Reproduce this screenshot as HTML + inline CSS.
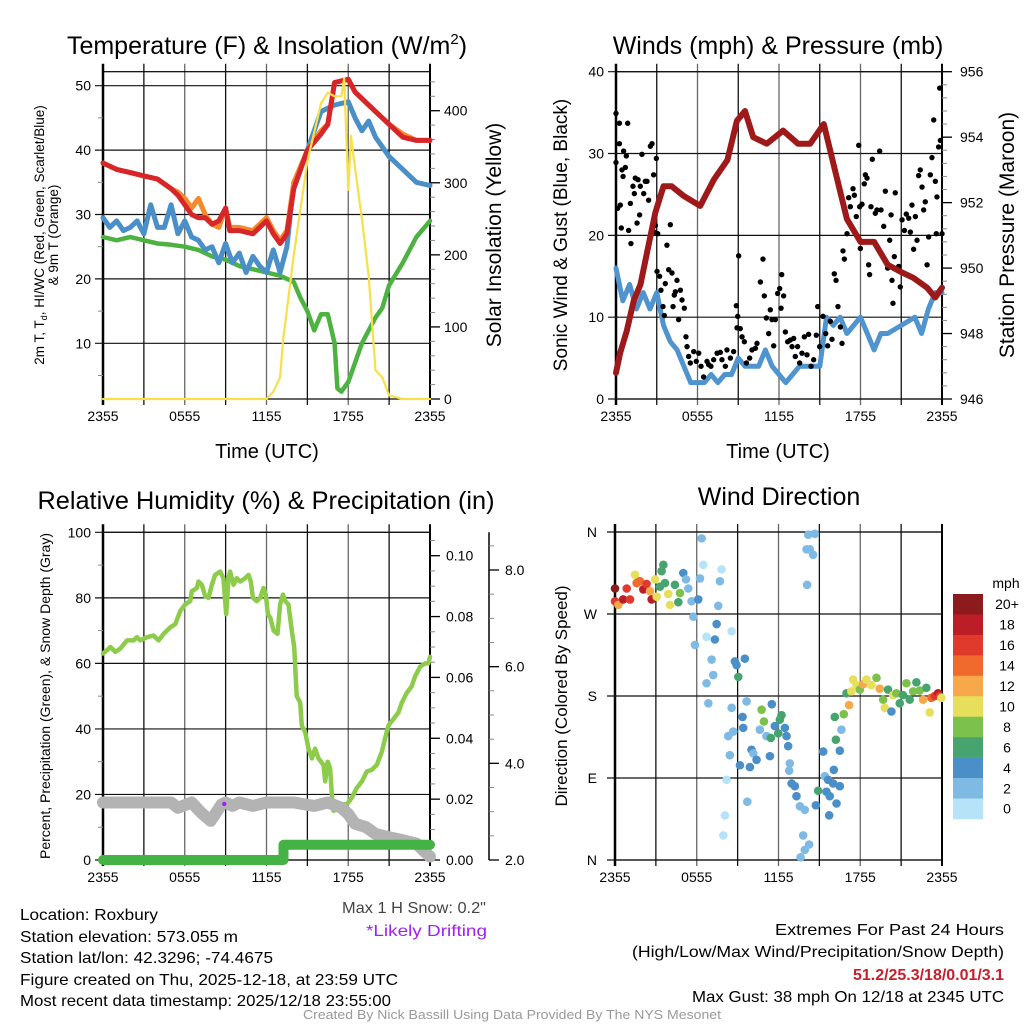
<!DOCTYPE html>
<html><head><meta charset="utf-8"><style>
html,body{margin:0;padding:0;background:#fff;}
svg{display:block;font-family:"Liberation Sans",Arial,sans-serif;}
</style></head><body>
<svg id="fig" width="1024" height="1024" viewBox="0 0 1024 1024" xmlns="http://www.w3.org/2000/svg">
<rect width="1024" height="1024" fill="#fff"/>
<g id="p1"></g>
<g id="p2"></g>
<g id="p3"></g>
<g id="p4"></g>
<text x="267" y="54" font-size="25" text-anchor="middle">Temperature (F) &amp; Insolation (W/m<tspan font-size="15" dy="-10">2</tspan><tspan dy="10">)</tspan></text>
<text x="778" y="54" font-size="25" text-anchor="middle">Winds (mph) &amp; Pressure (mb)</text>
<text x="266" y="509" font-size="25" text-anchor="middle" textLength="457" lengthAdjust="spacingAndGlyphs">Relative Humidity (%) &amp; Precipitation (in)</text>
<text x="779" y="505" font-size="25" text-anchor="middle">Wind Direction</text>
<text x="267" y="458" font-size="20" text-anchor="middle">Time (UTC)</text>
<text x="778" y="458" font-size="20" text-anchor="middle">Time (UTC)</text>
<text font-size="13.5" text-anchor="middle" transform="translate(44,235) rotate(-90)">2m T, T<tspan font-size="9" dy="3">d</tspan><tspan dy="-3">, HI/WC (Red, Green, Scarlet/Blue)</tspan></text>
<text font-size="13.5" text-anchor="middle" transform="translate(58,235) rotate(-90)">&amp; 9m T (Orange)</text>
<text font-size="21" text-anchor="middle" transform="translate(501,235) rotate(-90)">Solar Insolation (Yellow)</text>
<text font-size="19" text-anchor="middle" transform="translate(567,235) rotate(-90)">Sonic Wind &amp; Gust (Blue, Black)</text>
<text font-size="21" text-anchor="middle" transform="translate(1014,235) rotate(-90)">Station Pressure (Maroon)</text>
<text font-size="14" text-anchor="middle" transform="translate(50,696) rotate(-90)">Percent, Precipitation (Green), &amp; Snow Depth (Gray)</text>
<text font-size="17" text-anchor="middle" transform="translate(567,696) rotate(-90)">Direction (Colored By Speed)</text>
<g font-size="16">
<text x="20" y="920" textLength="138" lengthAdjust="spacingAndGlyphs">Location: Roxbury</text>
<text x="20" y="942" textLength="218" lengthAdjust="spacingAndGlyphs">Station elevation: 573.055 m</text>
<text x="20" y="963" textLength="253" lengthAdjust="spacingAndGlyphs">Station lat/lon: 42.3296; -74.4675</text>
<text x="20" y="985" textLength="378" lengthAdjust="spacingAndGlyphs">Figure created on Thu, 2025-12-18, at 23:59 UTC</text>
<text x="20" y="1006" textLength="371" lengthAdjust="spacingAndGlyphs">Most recent data timestamp: 2025/12/18 23:55:00</text>
<text x="342" y="913" fill="#444" textLength="144" lengthAdjust="spacingAndGlyphs">Max 1 H Snow: 0.2"</text>
<text x="366" y="936" fill="#a020f0" textLength="121" lengthAdjust="spacingAndGlyphs">*Likely Drifting</text>
<text x="775" y="935" textLength="229" lengthAdjust="spacingAndGlyphs">Extremes For Past 24 Hours</text>
<text x="632" y="957" textLength="372" lengthAdjust="spacingAndGlyphs">(High/Low/Max Wind/Precipitation/Snow Depth)</text>
<text x="853" y="980" fill="#c8202a" font-weight="bold" textLength="151" lengthAdjust="spacingAndGlyphs">51.2/25.3/18/0.01/3.1</text>
<text x="692" y="1002" textLength="312" lengthAdjust="spacingAndGlyphs">Max Gust: 38 mph On 12/18 at 2345 UTC</text>
</g>
<text x="303" y="1019" font-size="13" fill="#999" textLength="418" lengthAdjust="spacingAndGlyphs">Created By Nick Bassill Using Data Provided By The NYS Mesonet</text>
</svg>
<script>
// ---------- data ----------
const xTickLabels = ["2355","0555","1155","1755","2355"];
const xTickHours = [0,6,12,18,24];
// Panel 1
const tempHours = [0,1,2,3,4,5,5.5,6,6.5,7,7.5,8,8.5,9,9.3,10,11,12,12.5,13,13.5,14,14.5,15,16,16.5,17,18,18.5,19,20,21,22,23,24];
const tempRed =   [38,37,36.5,36,35.5,34,33,31.5,30,29.5,29.5,28.5,29,31,27.5,27.5,27,29,27,25.5,27,34,37,40,42.5,44,50.5,51,49,48,46,44,42,41.5,41.5];
const temp9m =    [38,37,36.5,36,35.5,34,33.5,32.5,31,32.5,30,28.5,28,31,28,28,27.5,29.5,27.5,26,27.5,35,37.5,40,43,44,50.5,51,49,48,46,44,42.5,41.5,41.5];
const chillHours = [0,0.5,1,1.5,2,2.5,3,3.5,4,4.5,5,5.5,6,6.5,7,7.5,8,8.5,9,9.5,10,10.5,11,11.5,12,12.5,13,13.5,14,14.5,15,15.5,16,17,18,18.5,19,19.5,20,21,22,23,24];
const chillBlue = [29.5,28,29,27.5,28,29,27,31.5,28,28,31.5,27,29,26.5,26,24.5,25,22.5,25.5,22.5,24,21,23.5,22,21,24.5,21,25,35,37,40,43,46,47,47.5,45,43,44.5,42,39,37,35,34.5];
const dewHours = [0,1,2,3,4,5,6,7,8,9,10,11,12,13,14,14.5,15,15.5,16,16.5,17,17.2,17.5,18,18.5,19,20,20.5,21,22,23,24];
const dewGreen = [26.5,26,26.5,26,25.5,25.3,25,24.5,23.5,23,22,21.5,21,20.5,19.5,17,15,12,14.5,14.5,10,3,2.5,4,7,10,14,15.5,19,22.5,26.5,29];
const solarHours = [0,12,12.5,13,13.2,14,15,16,16.5,17,17.5,17.7,18,18.2,18.5,19,19.5,20,20.5,21,22,24];
const solarVals =  [0,0,10,30,80,200,330,410,425,420,420,445,290,365,320,250,170,40,30,5,0,0];
// Panel 2
const windHours = [0,0.5,1,1.5,2,2.5,3,3.5,4,4.5,5,5.5,6,6.5,7,7.5,8,8.5,9,9.5,10,10.5,11,11.5,12,12.5,13,13.5,14,14.5,15,15.5,16,16.5,17,17.5,18,18.5,19,19.5,20,21,22,22.5,23,23.5,24];
const windVals =  [16,12,14,11,13,11,13,9,7,6,4,2,2,2,3,2,3,3,5,4,4,4,6,4,3,2,3,4,4,4,4,10,9,10,8,9,10,8,6,8,8,9,10,8,11,13,13];
const presHours = [0,0.3,0.8,1.3,1.8,2.3,2.9,3.5,4.1,5,6.2,7.2,8.2,8.9,9.5,10.1,11.1,12.3,13.4,14.3,15.3,16,17,18,19,20,20.9,21.9,22.9,23.5,24];
const presVals =  [946.8,947.4,948.1,949,949.5,950.5,951.7,952.5,952.5,952.2,951.9,952.7,953.3,954.5,954.8,954,953.8,954.2,953.8,953.8,954.4,953.2,951.5,950.8,950.8,950.1,949.9,949.7,949.4,949.1,949.4];
const gustObs = [[0,34.9],[0,28.9],[0.25,33.7],[0.25,31.2],[0.12,23.3],[0.32,23.7],[0.44,28],[0.52,27.2],[0.56,30.3],[0.69,28.3],[0.86,33.7],[0.76,29.7],[0.39,20.9],[0.93,20.6],[1.06,23.9],[1.1,19],[1.25,26],[1.35,25.1],[1.42,27],[1.55,21.5],[1.62,26.8],[1.79,26],[1.74,22.5],[1.91,29.9],[2.04,25.1],[2.16,26.6],[2.28,26.6],[2.4,24.3],[2.53,30.9],[2.65,31.2],[2.77,27.4],[2.82,20.4],[2.9,21.2],[2.97,29.4],[3.07,20.2],[3.02,15.6],[3.21,15],[3.31,13.3],[3.46,11.3],[3.56,10.2],[3.63,14.1],[3.75,18.8],[3.88,15.8],[4.0,21.3],[4.12,15.4],[4.2,11.3],[4.29,12.7],[4.37,13.1],[4.49,14.5],[4.61,9.7],[4.74,13.3],[4.86,12.1],[5.03,11.1],[5.15,7.6],[5.23,6.4],[5.35,5.2],[5.47,4.4],[5.72,5.8],[5.91,4.6],[6.09,5.6],[6.26,4],[6.45,2.7],[6.7,4.6],[6.82,4.2],[6.99,4],[7.19,4.8],[7.44,5.6],[7.68,5.7],[7.8,4.8],[8.05,4],[8.17,6],[8.42,5],[8.66,5.8],[8.86,11.4],[8.91,8.7],[8.96,10.1],[9.03,17.5],[9.15,8.6],[9.28,7.6],[9.45,7],[9.6,4.4],[9.84,5],[10.01,6],[10.26,6.2],[10.38,6.8],[10.63,14.3],[10.82,17.1],[10.92,12.6],[11.07,9.9],[11.24,8],[11.36,10.9],[11.48,9.7],[11.61,6.5],[11.73,9.7],[11.9,12.9],[12.05,13.5],[12.15,11.1],[12.2,15.2],[12.34,12.6],[12.47,8.2],[12.64,7],[12.83,7.2],[12.96,6.4],[13.08,7.4],[13.2,5.2],[13.37,6.4],[13.52,4.4],[13.69,5.6],[13.87,7.6],[14.06,5.4],[14.18,7.9],[14.36,4],[14.55,4.8],[14.75,7.8],[14.85,11.3],[14.99,6.4],[15.24,10.1],[15.44,8],[15.58,6.5],[15.78,9.5],[15.9,7.3],[16.07,15.3],[16.2,14.5],[16.34,11.3],[16.52,8.8],[16.64,6.8],[16.71,18.1],[16.81,17.1],[17.01,20.2],[17.13,24.6],[17.25,23.5],[17.45,25.7],[17.55,24.9],[17.69,22.3],[17.87,31],[17.94,23.5],[17.99,18.4],[18.11,23.8],[18.28,26.3],[18.36,27.4],[18.48,27],[18.6,16.4],[18.67,15.2],[18.77,23.5],[18.87,29.3],[19.09,22.7],[19.21,23.1],[19.41,30.3],[19.51,23.1],[19.71,21.1],[19.83,25.4],[20.0,16],[20.15,19.4],[20.25,22.5],[20.32,14.5],[20.39,11.7],[20.49,17.4],[20.56,25.2],[20.81,16.2],[20.93,13.7],[21.06,21.9],[21.23,20.6],[21.37,22.6],[21.55,22.1],[21.67,20.4],[21.79,23.7],[21.91,18.3],[22.04,22.3],[22.16,19.4],[22.28,27.3],[22.4,28],[22.53,25.9],[22.65,23.1],[22.77,24.1],[22.9,16.4],[23.02,19.8],[23.14,27.4],[23.26,29.5],[23.39,34.1],[23.51,26.6],[23.58,20.2],[23.63,24.7],[23.75,30.8],[23.83,38],[23.88,31.6],[24,20.2]];
// Panel 3
const rhHours = [0,0.29,0.54,0.9,1.27,1.76,2.25,2.49,2.74,3.23,3.71,4.08,4.45,4.94,5.31,5.67,6.04,6.4,6.52,6.89,7.01,7.25,7.5,7.74,7.99,8.23,8.6,8.84,9.04,9.21,9.33,9.58,9.82,10.07,10.43,10.68,10.85,11.0,11.29,11.54,11.78,11.95,12.1,12.27,12.52,12.81,13.0,13.2,13.37,13.61,13.86,14.03,14.22,14.35,14.47,14.59,14.84,15.08,15.33,15.57,15.82,16.18,16.31,16.49,16.67,16.79,16.92,17.16,17.53,17.9,18.26,18.63,19.0,19.36,19.72,20.09,20.46,20.7,20.95,21.31,21.68,21.93,22.29,22.66,22.9,23.27,23.64,23.88,24];
const rhVals = [63,64,65,63.5,64.5,67,67,68,67,68,68.5,67,69,71,72,76,78,79,82,83,85,84,80.5,80,84,87,88,86,75,86,88,84,86,85,86,87,85,80,79,80,83,81,75,74,70,69,78,81,79,78,70,65,50,49,48,41,39,34,31,34,31,29,24,30,28,20,15,15.5,17,17,19,22,24,27,27.5,29,33,37,41,43,45,48,51,53,56,59,60,60,62];
const snowHours = [0,5,5.5,6.5,7.2,7.9,8.4,8.7,9,9.5,10,11,12,14,15.5,16.5,17.5,18,18.5,19.3,20,21,22,23,23.5,24];
const snowDepth = [3.19,3.19,3.08,3.19,2.98,2.81,3.02,3.15,3.19,3.12,3.19,3.12,3.19,3.19,3.12,3.19,3.08,2.95,2.75,2.68,2.54,2.47,2.41,2.34,2.2,2.07];
const precipHours = [0,13.25,13.25,24];
const precipVals = [0,0,0.005,0.005];
// Panel 4
const windDirObs = [[0.0,298,20],[0.0,284,16],[0.25,280,12],[0.6,286,18],[0.86,298,17],[1.1,286,16],[1.47,313,10],[1.59,304,15],[1.83,306,15],[2.08,297,18],[2.32,303,16],[2.57,295,12],[2.69,286,18],[2.94,308,10],[3.06,289,11],[3.3,300,7],[3.42,317,6],[3.55,324,7],[3.67,304,6],[3.91,292,10],[4.04,280,10],[4.4,302,6],[4.65,283,6],[4.77,293,8],[5.01,315,4],[5.21,308,2],[5.38,298,2],[5.62,284,2],[5.75,267,2],[5.87,236,3],[6.11,286,4],[6.24,309,2],[6.36,353,2],[6.48,324,1],[6.72,245,1],[7.09,220,2],[7.21,203,2],[6.72,194,2],[6.85,172,2],[7.33,242,4],[7.46,259,4],[7.58,279,2],[7.7,306,2],[7.82,319,1],[8.07,49,1],[7.95,27,1],[8.19,88,1],[8.31,136,2],[8.43,115,2],[8.56,167,2],[8.56,251,1],[8.68,141,2],[8.8,218,4],[8.92,214,4],[9.05,201,6],[9.17,104,4],[9.36,157,4],[9.41,145,4],[9.53,221,4],[9.66,174,2],[9.71,64,2],[10.02,121,4],[9.9,102,4],[10.15,117,2],[10.39,110,4],[10.63,143,2],[10.76,165,8],[10.93,152,8],[11.12,136,2],[11.37,114,4],[11.44,134,6],[11.51,171,4],[11.73,147,4],[11.98,139,6],[12.1,154,6],[12.22,159,6],[12.47,145,4],[12.59,136,4],[12.71,125,4],[12.83,106,2],[12.78,98,2],[12.96,84,4],[13.2,81,4],[13.32,70,4],[13.57,59,2],[13.93,55,2],[13.81,27,2],[13.93,11,2],[13.62,3,2],[14.25,17,2],[14.06,341,2],[14.3,341,2],[14.54,335,2],[14.18,357,2],[14.67,358,2],[14.1,302,2],[14.74,60,4],[14.91,76,6],[15.28,119,4],[15.4,92,2],[15.52,75,4],[15.64,88,4],[15.76,70,4],[15.72,49,4],[16.01,84,4],[16.06,99,4],[16.26,62,4],[16.5,81,4],[16.5,120,4],[16.21,132,6],[16.13,157,6],[16.62,143,2],[16.79,160,8],[16.99,183,6],[17.18,170,12],[17.35,185,10],[17.48,198,10],[17.72,192,10],[17.97,187,8],[18.21,193,12],[18.45,198,10],[18.82,192,10],[19.19,200,8],[19.43,188,12],[19.68,176,8],[19.8,167,10],[20.04,187,6],[20.29,163,4],[20.41,181,10],[20.65,183,8],[20.9,172,6],[21.14,181,6],[21.39,194,8],[21.63,176,6],[21.88,185,8],[22.12,195,6],[22.37,186,8],[22.61,176,12],[22.85,189,6],[23.1,162,10],[23.22,178,14],[23.47,180,16],[23.71,183,18],[23.83,180,16],[23.95,178,10]];
const speedLabels = ["0","2","4","6","8","10","12","14","16","18","20+"];
const speedColors = ["#b6e3f8","#7fbae5","#4a8fc7","#48a46f","#7cc14b","#e7df5b","#f6a84b","#ef6a2c","#df3a2b","#bb1e26","#8d1a1c"];

// ---------- helpers ----------
const NS = "http://www.w3.org/2000/svg";
function mk(parent, tag, attrs, text){
  const e = document.createElementNS(NS, tag);
  for (const k in attrs) e.setAttribute(k, attrs[k]);
  if (text !== undefined) e.textContent = text;
  parent.appendChild(e);
  return e;
}
function xScale(x0,x1){ return h => x0 + h*(x1-x0)/24; }
function lin(d0,d1,r0,r1){ return v => r0 + (v-d0)*(r1-r0)/(d1-d0); }
function pathOf(hs, vs, X, Y){
  let d = "";
  for (let i=0;i<hs.length;i++) d += (i?"L":"M") + X(hs[i]).toFixed(1) + "," + Y(vs[i]).toFixed(1);
  return d;
}
function frame(g, x0, x1, yt, yb, X){
  for (let h=3; h<24; h+=3){
    const l = mk(g,"line",{x1:X(h),x2:X(h),y1:yt-8,y2:yb+6,stroke:(h%6===0)?"#666":"#111","stroke-width":1.3});
    
    
  }
  const b = mk(g,"rect",{x:x0,y:yt,width:x1-x0,height:yb-yt,fill:"none",stroke:"#000","stroke-width":1.2});
  
  
  mk(g,"line",{x1:x0,x2:x0,y1:yt-8,y2:yb+6,stroke:"#000","stroke-width":2.5});
  mk(g,"line",{x1:x1,x2:x1,y1:yt-8,y2:yb+6,stroke:"#000","stroke-width":2});
  for (let i=0;i<xTickHours.length;i++){
    const t = mk(g,"text",{x:X(xTickHours[i]),y:yb+22,"font-size":14,"text-anchor":"middle"}, xTickLabels[i]);
    
    
  }
}
function hgrid(g,x0,x1,y){ mk(g,"line",{x1:x0-8,x2:x1,y1:y,y2:y,stroke:"#111","stroke-width":1.2}); }
function ylabel(g,x,y,txt,anchor){
  const t = mk(g,"text",{x:x,y:y+5,"font-size":14,"text-anchor":anchor},txt);
  
  
}
function rightAxis(g,x,yt,yb,majors,minorStep,Y,lo,hi,fmt,labelX){
  mk(g,"line",{x1:x,x2:x,y1:yt,y2:yb,stroke:"#000","stroke-width":1.5});
  for (let v=lo; v<=hi+1e-9; v+=minorStep){ const y=Y(v); if(y>=yt-0.5&&y<=yb+0.5) mk(g,"line",{x1:x,x2:x+5,y1:y,y2:y,stroke:"#888","stroke-width":1}); }
  majors.forEach(v=>{ const y=Y(v); mk(g,"line",{x1:x,x2:x+10,y1:y,y2:y,stroke:"#000","stroke-width":1.3}); ylabel(g,labelX,y,fmt(v),"start"); });
}
function line(g,hs,vs,X,Y,color,w,name){
  const p = mk(g,"path",{d:pathOf(hs,vs,X,Y),fill:"none",stroke:color,"stroke-width":w,"stroke-linejoin":"round","stroke-linecap":"round"});
  
  
  return p;
}

// ---------- Panel 1 ----------
(function(){
  const g = document.getElementById("p1");
  const x0=103,x1=430,yt=71.7,yb=399;
  const X = xScale(x0,x1), Y = lin(0,50,407.7,85.7), YR = lin(0,400,399,110.7);
  frame(g,x0,x1,yt,yb,X);
  [10,20,30,40,50].forEach(v=>{ hgrid(g,x0,x1,Y(v)); ylabel(g,x0-12,Y(v),String(v),"end"); });
  [5,15,25,35,45].forEach(v=>mk(g,"line",{x1:x0-5,x2:x0,y1:Y(v),y2:Y(v),stroke:"#888"}));
  rightAxis(g,x1,yt,yb,[0,100,200,300,400],20,YR,0,440,v=>String(v),x1+14);
  line(g,dewHours,dewGreen,X,Y,"#4cb240",4.5,"dewpoint-line");
  line(g,chillHours,chillBlue,X,Y,"#4a8fc8",5,"windchill-line");
  line(g,tempHours,temp9m,X,Y,"#f58a2c",5,"temp-9m-line");
  line(g,tempHours,tempRed,X,Y,"#d7262a",5,"temp-2m-line");
  line(g,solarHours,solarVals,X,YR,"#f7e04a",2.2,"solar-line");
})();

// ---------- Panel 2 ----------
(function(){
  const g = document.getElementById("p2");
  const x0=616,x1=942,yt=71.7,yb=399;
  const X = xScale(x0,x1), Y = lin(0,40,399,71.7), YR = lin(946,956,399,71.7);
  frame(g,x0,x1,yt,yb,X);
  [0,10,20,30,40].forEach(v=>{ hgrid(g,x0,x1,Y(v)); ylabel(g,x0-12,Y(v),String(v),"end"); });
  rightAxis(g,x1,yt,yb,[946,948,950,952,954,956],0.4,YR,946,956,v=>String(v),x1+18);
  line(g,windHours,windVals,X,Y,"#4f94cf",5,"sonic-wind-line");
  gustObs.forEach(o=>{
    const c = mk(g,"circle",{cx:X(o[0]),cy:Y(o[1]),r:2.7,fill:"#000"});
    
    
  });
  line(g,presHours,presVals,X,YR,"#9e1a1a",6,"pressure-line");
})();

// ---------- Panel 3 ----------
(function(){
  const g = document.getElementById("p3");
  const x0=103,x1=430,yt=532.3,yb=860;
  const X = xScale(x0,x1), Y = lin(0,100,860,532.3), YP = lin(0,0.1,860,555.7), YS = lin(2,8,860,570);
  frame(g,x0,x1,yt,yb,X);
  [0,20,40,60,80,100].forEach(v=>{ hgrid(g,x0,x1,Y(v)); ylabel(g,x0-12,Y(v),String(v),"end"); });
  [10,30,50,70,90].forEach(v=>mk(g,"line",{x1:x0-5,x2:x0,y1:Y(v),y2:Y(v),stroke:"#888"}));
  rightAxis(g,x1,yt,yb,[0,0.02,0.04,0.06,0.08,0.10],0.005,YP,0,0.108,v=>v.toFixed(2),x1+16);
  rightAxis(g,489,yt,yb,[2,4,6,8],0.5,YS,2,8.8,v=>v.toFixed(1),505);
  line(g,rhHours,rhVals,X,Y,"#8dcb4b",4.5,"rh-line");
  line(g,snowHours,snowDepth,X,YS,"#b3b3b3",12,"snow-depth-line");
  line(g,precipHours,precipVals,X,YP,"#45b245",10,"precip-line");
  const pd = mk(g,"circle",{cx:X(8.9),cy:YS(3.16),r:2.2,fill:"#a020f0"});
  
  
})();

// ---------- Panel 4 ----------
(function(){
  const g = document.getElementById("p4");
  const x0=615,x1=942,yt=532,yb=860;
  const X = xScale(x0,x1), Y = lin(0,360,860,532);
  frame(g,x0,x1,yt,yb,X);
  const dirLabels = ["N","E","S","W","N"];
  [0,90,180,270,360].forEach((v,i)=>{ hgrid(g,x0,x1,Y(v)); ylabel(g,x0-18,Y(v),dirLabels[i],"end"); });
  windDirObs.forEach(o=>{
    const idx = Math.min(10, Math.floor(o[2]/2));
    const c = mk(g,"circle",{cx:X(o[0]),cy:Y(o[1]),r:4.3,fill:speedColors[idx]});
    
    
  });
  const cb = mk(g,"g",{});
  
  
  const top=594, bh=20.45;
  mk(cb,"text",{x:1006,y:588,"font-size":14,"text-anchor":"middle"},"mph");
  for (let i=0;i<11;i++){
    const k = 10-i;
    const r = mk(cb,"rect",{x:953,y:top+i*bh,width:30,height:bh+0.3,fill:speedColors[k]});
    
    
    const t = mk(cb,"text",{x:1007,y:top+i*bh+bh/2+5,"font-size":14,"text-anchor":"middle"},speedLabels[k]);
    
    
  }
})();
</script>
</body></html>
